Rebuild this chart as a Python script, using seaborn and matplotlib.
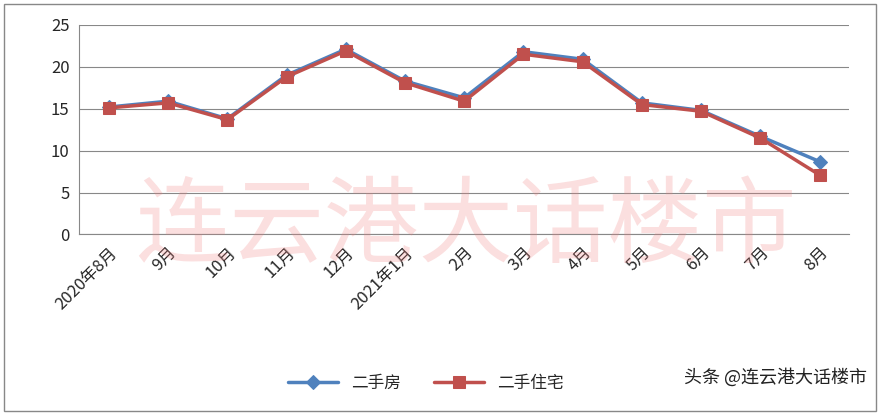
import matplotlib
matplotlib.use("Agg")
import matplotlib.pyplot as plt
import seaborn as sns
import pandas as pd

months = ["2020年8月", "9月", "10月", "11月", "12月", "2021年1月", "2月", "3月",
          "4月", "5月", "6月", "7月", "8月"]
ershoufang = [15.2, 15.9, 13.8, 19.0, 22.1, 18.3, 16.3, 21.8, 20.9, 15.7, 14.8, 11.7, 8.7]
ershou_zhuzhai = [15.1, 15.7, 13.7, 18.8, 21.9, 18.1, 15.9, 21.5, 20.6, 15.5, 14.7, 11.5, 7.1]

sns.set_style("white")
plt.rcParams['font.family'] = ['Noto Sans CJK SC', 'DejaVu Sans']

df = pd.DataFrame({"month": range(len(months)), "二手房": ershoufang, "二手住宅": ershou_zhuzhai})

fig = plt.figure(figsize=(8.8, 4.15), dpi=100)
ax = fig.add_axes([0.09, 0.435, 0.875, 0.505])

sns.lineplot(data=df, x="month", y="二手房", ax=ax, color="#4F81BD", marker="D",
             markersize=7, linewidth=2.5, label="二手房", markeredgecolor="#4F81BD")
sns.lineplot(data=df, x="month", y="二手住宅", ax=ax, color="#C0504D", marker="s",
             markersize=9, linewidth=2.5, label="二手住宅", markeredgecolor="#C0504D")

ax.set_ylim(0, 25)
ax.set_yticks(range(0, 26, 5))
ax.set_xlim(-0.5, len(months) - 0.5)
ax.set_xticks(range(len(months)))
ax.set_xticklabels(months, rotation=45, ha="right", rotation_mode="anchor", fontsize=12)
ax.tick_params(axis="y", labelsize=12)
ax.set_xlabel("")
ax.set_ylabel("")
ax.yaxis.grid(True, color="#888888", linewidth=0.8)
for s in ["top", "right"]:
    ax.spines[s].set_visible(False)
ax.spines["left"].set_color("#888888")
ax.spines["bottom"].set_color("#888888")

ax.legend(loc="upper center", bbox_to_anchor=(0.45, -0.6), ncol=2, frameon=False,
          fontsize=12, handlelength=3)

fig.text(0.53, 0.45, "连云港大话楼市", fontsize=68, color="#F08080", alpha=0.25,
         ha="center", va="center")
fig.text(0.985, 0.09, "头条 @连云港大话楼市", fontsize=13, color="#222222", ha="right", va="center")
fig.patches.append(plt.Rectangle((0.005, 0.01), 0.99, 0.98, transform=fig.transFigure,
                                 fill=False, edgecolor="#888888", linewidth=1))

fig.savefig("out.png", dpi=100)
